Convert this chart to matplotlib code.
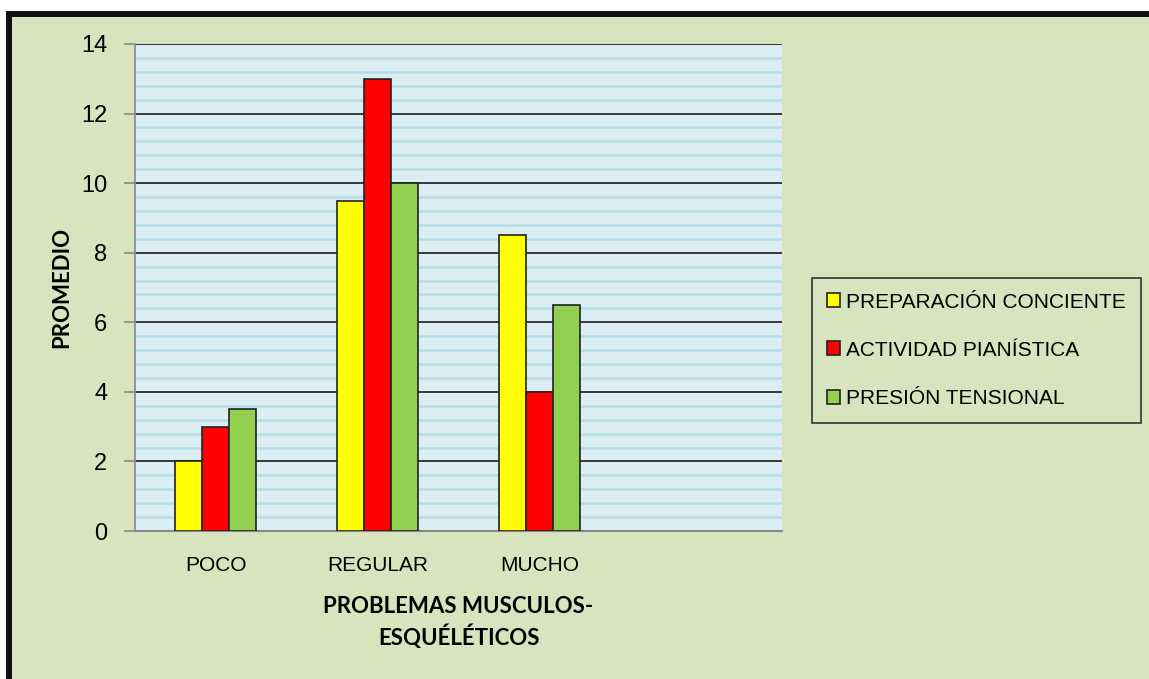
import matplotlib
matplotlib.use("Agg")
import matplotlib.pyplot as plt
import numpy as np
from matplotlib.patches import Rectangle

# datos
categorias = ["POCO", "REGULAR", "MUCHO", ""]
preparacion = [2, 9.5, 8.5]
actividad = [3, 13, 4]
presion = [3.5, 10, 6.5]
series = ["PREPARACIÓN CONCIENTE", "ACTIVIDAD PIANÍSTICA", "PRESIÓN TENSIONAL"]
colores = ["#FFFF00", "#FF0000", "#92D050"]

fondo = "#D7E4BD"
narrow = ["Liberation Sans", "DejaVu Sans"]

W, H = 1149, 679
fig = plt.figure(figsize=(W / 100, H / 100), dpi=100, facecolor="white")

# marco negro y fondo verde
fig.patches.append(Rectangle((6 / W, 0), 1, 1 - 11 / H, transform=fig.transFigure,
                             facecolor="#111111", edgecolor="none", zorder=-10))
fig.patches.append(Rectangle((12 / W, 0), 1, 1 - 17 / H, transform=fig.transFigure,
                             facecolor=fondo, edgecolor="none", zorder=-9))

ax = fig.add_axes([135 / W, 1 - 531 / H, (782 - 135) / W, (531 - 44) / H])
ax.set_facecolor("#DAEEF3")

x = np.arange(len(categorias))
w = 0.167
for i, (vals, c, lab) in enumerate(zip([preparacion, actividad, presion], colores, series)):
    ax.bar(x[:3] + (i - 1) * w, vals, width=w, color=c, edgecolor="#222222",
           linewidth=1.2, label=lab, zorder=3)

ax.set_xlim(-0.5, 3.5)
ax.set_ylim(0, 14)
ax.set_yticks(np.arange(0, 15, 2))
ax.set_yticks(np.arange(0, 14.01, 0.4), minor=True)
ax.grid(axis="y", which="minor", color="#B7DDE8", linewidth=1.8, zorder=1)
ax.grid(axis="y", which="major", color="#1a1a1a", linewidth=1.2, zorder=2)
ax.tick_params(axis="y", which="minor", length=0)
ax.tick_params(axis="y", which="major", length=8, color="#888888", width=1.2, pad=12)
ax.set_xticks(x)
ax.set_xticklabels(categorias)
ax.tick_params(axis="x", length=0, pad=18)
for t in ax.get_xticklabels():
    t.set_family(narrow)
    t.set_fontsize(15)
for t in ax.get_yticklabels():
    t.set_family(narrow)
    t.set_fontsize(17)

ax.spines["right"].set_visible(False)
ax.spines["top"].set_visible(False)
ax.spines["left"].set_color("#888888")
ax.spines["bottom"].set_color("#888888")
ax.spines["left"].set_linewidth(1.2)
ax.spines["bottom"].set_linewidth(1.5)

ax.set_xlabel("PROBLEMAS MUSCULOS-\nESQUÉLÉTICOS", family=["Lato", "DejaVu Sans"],
              fontweight="bold", fontsize=16, labelpad=15, linespacing=1.35)
ax.set_ylabel("PROMEDIO", family=["Lato", "DejaVu Sans"], fontweight="bold",
              fontsize=16, labelpad=6)

leg = fig.legend(loc="upper left", bbox_to_anchor=(812 / W, 1 - 278 / H),
                 prop={"family": narrow, "size": 15}, frameon=True, fancybox=False,
                 facecolor=fondo, edgecolor="#333333", handlelength=0.65,
                 handleheight=0.65, handletextpad=0.3, labelspacing=1.4,
                 borderpad=0.7, borderaxespad=0)
leg.get_frame().set_linewidth(1.2)
leg.get_frame().set_alpha(None)

fig.savefig("out.png", dpi=100, facecolor=fig.get_facecolor())
